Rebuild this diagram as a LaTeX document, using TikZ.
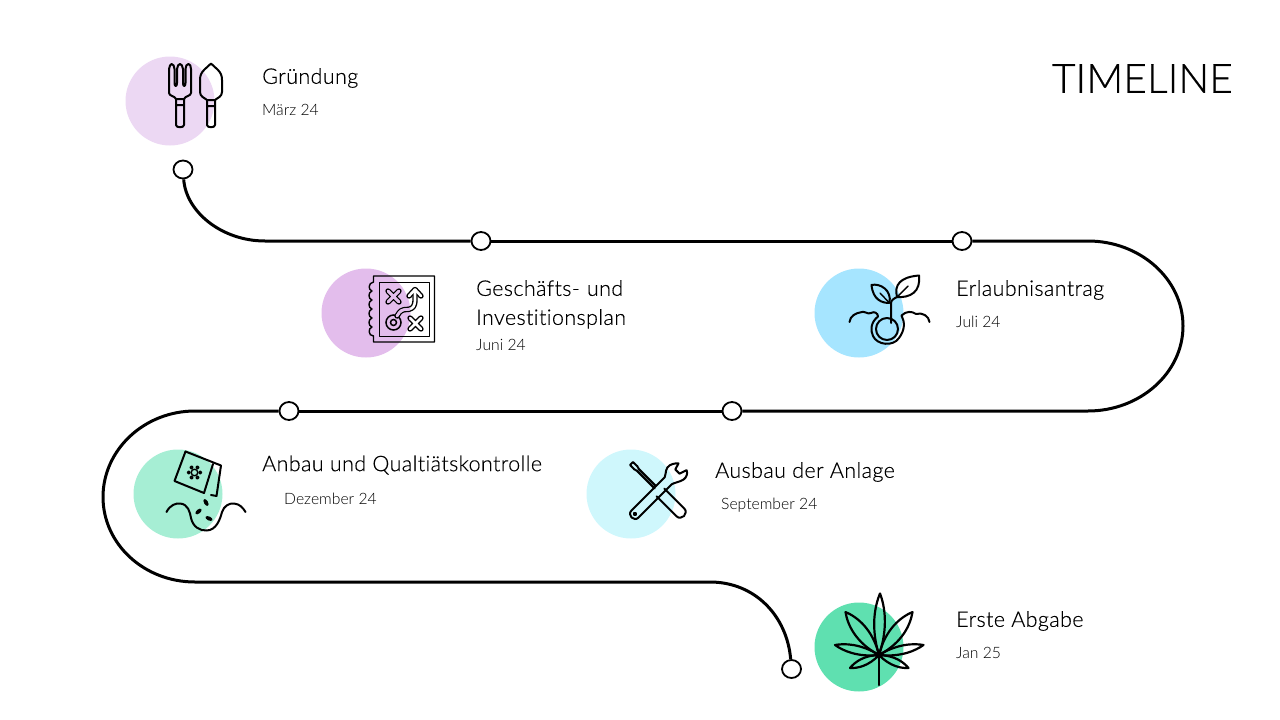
\documentclass[tikz,border=0pt]{standalone}
\usepackage{fontspec}
\setmainfont{Lato Light}[Ligatures=NoCommon]
\newfontfamily\titlefont{Lato Light}[Ligatures=NoCommon,LetterSpace=1.8,FakeBold=0.25]
\newfontfamily\bigfont{Lato Light}[LetterSpace=0.5,FakeBold=0.6]
\usetikzlibrary{calc,shapes.geometric}
\definecolor{cA}{HTML}{ECD8F3}
\definecolor{cB}{HTML}{E3BDEC}
\definecolor{cC}{HTML}{A6E5FF}
\definecolor{cD}{HTML}{A6EED4}
\definecolor{cE}{HTML}{CFF7FC}
\definecolor{cF}{HTML}{5FE0B0}
\newcommand{\mapmarks}{%
  \draw[line cap=round] (388,291)--(399,302) (399,291)--(388,302);
  \draw[line cap=round] (410,318)--(421,329) (421,318)--(410,329);
  \draw[line cap=round,line join=round,rounded corners=3pt] (397,316)--(401,310)--(412,309)--(415,304)--(415,291);
  \draw[line cap=round,line join=round] (409,296)--(415,289.5)--(421,296);
}
\newcommand{\leafshape}[3]{% tip x, tip y, width
  \draw[icon,line width=2.2pt] (lc) .. controls ($(lc)!0.45!(#1,#2)!#3pt!90:(#1,#2)$) and ($(lc)!0.8!(#1,#2)!#3*0.55pt!90:(#1,#2)$) .. (#1,#2)
     .. controls ($(lc)!0.8!(#1,#2)!#3*0.55pt!-90:(#1,#2)$) and ($(lc)!0.45!(#1,#2)!#3pt!-90:(#1,#2)$) .. (lc);
}
\tikzset{
  x=1pt,y=-1pt,
  blob/.style={circle,draw=none,minimum size=89pt,inner sep=0pt},
  stop/.style={ellipse,draw=black,fill=white,line width=1.8pt,minimum width=19pt,minimum height=18pt,inner sep=0pt},
  track/.style={line width=3pt,black},
  icon/.style={line width=2pt,black,line join=round,line cap=round},
  thin icon/.style={line width=1.4pt,black,line join=round,line cap=round},
  head/.style={anchor=west,inner sep=0pt,font=\titlefont\fontsize{21.5}{29}\selectfont,align=left},
  when/.style={anchor=west,inner sep=0pt,font=\fontsize{15.7}{20}\selectfont},
}
\begin{document}
\begin{tikzpicture}
\useasboundingbox (0,0) rectangle (1280,720);
% circles
\node[blob,fill=cA] (b1) at (170,101) {};
\node[blob,fill=cB] (b2) at (366,313) {};
\node[blob,fill=cC] (b3) at (859,313) {};
\node[blob,fill=cD] (b4) at (178,494) {};
\node[blob,fill=cE] (b5) at (631,494) {};
\node[blob,fill=cF] (b6) at (859,647) {};
% stops
\node[stop] (p1) at (183,169.5) {};
\node[stop] (p2) at (481,241) {};
\node[stop] (p3) at (962,241) {};
\node[stop] (p4) at (732,411) {};
\node[stop] (p5) at (289,411) {};
\node[stop] (p6) at (791.5,669) {};
\coordinate (c1) at (265,241);
\coordinate (c2) at (1088,241);
\coordinate (c3) at (1183,326);
\coordinate (c4) at (1088,411);
\coordinate (c5) at (195,411);
\coordinate (c6) at (103,497);
\coordinate (c7) at (195,582);
\coordinate (c8) at (710,582);
% track
\draw[track] (p1) .. controls (186,212) and (222,241) .. (c1) -- (p2);
\draw[track] (p2) -- (p3);
\draw[track] (p3) -- (c2) .. controls (1140,241) and (1183,279) .. (c3) .. controls (1183,373) and (1140,411) .. (c4) -- (p4);
\draw[track] (p4) -- (p5);
\draw[track] (p5) -- (c5) .. controls (144,411) and (103,450) .. (c6) .. controls (103,544) and (144,582) .. (c7) -- (c8) .. controls (755,582) and (787,616) .. (p6);
% fork
\draw[icon] (169,93) -- (169,69) .. controls (169,66) and (171,64) .. (171.5,64) .. controls (173,64) and (174.5,66) .. (174.5,69) -- (174.5,83) .. controls (174.5,87) and (177,87) .. (177,83) -- (177,69) .. controls (177,66) and (179,64) .. (180,64) .. controls (181,64) and (183,66) .. (183,69) -- (183,83) .. controls (183,87) and (185.5,87) .. (185.5,83) -- (185.5,69) .. controls (185.5,66) and (187,64) .. (188.5,64) .. controls (190,64) and (191,66) .. (191,69) -- (191,93) .. controls (191,96) and (185,96) .. (184,99) -- (176,99) .. controls (175,96) and (169,96) .. (169,93) -- cycle;
\draw[icon] (176,99) -- (176,125) .. controls (176,128) and (184,128) .. (184,125) -- (184,99) (176,105) -- (184,105);
% trowel
\draw[icon] (211,63.5) -- (204.5,69.5) .. controls (201.5,72.5) and (200,75) .. (200,80) -- (200,92) .. controls (200,97) and (205,98) .. (207,100) -- (215,100) .. controls (217,98) and (222,97) .. (222,92) -- (222,80) .. controls (222,75) and (220.5,72.5) .. (217.5,69.5) -- cycle;
\draw[icon] (207,100) -- (207,125) .. controls (207,128) and (215,128) .. (215,125) -- (215,100) (207,106) -- (215,106);
% map
\draw[thin icon] (373.5,276) -- (434.5,276) -- (434.5,342) -- (373.5,342) -- (373.5,336)
  .. controls (368,336) and (368,328) .. (372,327)
  .. controls (368,326) and (368,319) .. (372,318)
  .. controls (368,317) and (368,310) .. (372,309)
  .. controls (368,308) and (368,301) .. (372,300)
  .. controls (368,299) and (368,292) .. (372,291)
  .. controls (368,290) and (368,283) .. (373.5,282) -- cycle;
\draw[icon,line width=1.5pt] (379.5,282.5) rectangle (429.5,336.5);
\draw[black,line width=1.5pt] (393.5,322.5) circle[radius=7.5];
\draw[black,line width=1.5pt] (393.5,322.5) circle[radius=3];
\begin{scope}[line width=5.4pt,black] \mapmarks \end{scope}
\begin{scope}[line width=2.6pt,white] \tikzset{every path/.style={white,line width=2.6pt}} \mapmarks \end{scope}
\begin{scope}
  \clip (b2.center) circle[radius=44.5];
  \tikzset{every path/.style={cB,line width=2.6pt}} \mapmarks
\end{scope}
% sprout
\draw[icon] (849.5,322) .. controls (850,316) and (856,313) .. (860,312.5) .. controls (864,310) and (868,315) .. (871,313) .. controls (874,311) and (878,313) .. (878,316.5) .. controls (871,322) and (870,330) .. (873,336) .. controls (877,345) and (893,347) .. (899,338) .. controls (905,330) and (905,322) .. (901.5,315.5) .. controls (906,311) and (912,311) .. (916,314) .. controls (922,312) and (929,316) .. (929.5,322);
\draw[icon] (887,329) ellipse[x radius=11,y radius=11];
\draw[icon] (891,323) -- (891,303) .. controls (891,300) and (895,298) .. (897,297);
\draw[icon] (889.5,303) .. controls (882,303) and (873,300) .. (871.5,285) .. controls (880,283) and (892,290) .. (889.5,303) -- cycle;
\draw[icon] (897,297) .. controls (894,285) and (900,277) .. (919,275.5) .. controls (921,292) and (910,298) .. (897,297) -- cycle;
\draw[thin icon] (889,302.5) -- (880,293) (897,297) -- (908,286);
% seeds
\draw[icon] (185.5,451.5) -- (221,465.5) -- (216.5,496) -- (211,495);
\draw[icon] (185.5,451.5) -- (174.5,481) -- (204,493) -- (213,464) ;
\draw[thin icon] (194.5,472.5) circle[radius=3.3];
\foreach \a in {0,60,120,180,240,300}
  \draw[thin icon] ($(194.5,472.5)+(\a:5.8)$) circle[radius=1.4];
\fill[black,rotate around={-60:(206,502.5)}] (206,502.5) ellipse[x radius=3.8,y radius=2];
\fill[black,rotate around={40:(198.5,511.5)}] (198.5,511.5) ellipse[x radius=3.8,y radius=2];
\fill[black,rotate around={-25:(209,518.5)}] (209,518.5) ellipse[x radius=3.8,y radius=2];
\draw[icon] (166.5,512) .. controls (170,505) and (176,503) .. (180,503.5) .. controls (188,504) and (190,512) .. (191,518) .. controls (193,527) and (200,531) .. (207,530.5) .. controls (216,530) and (220,520) .. (222,512) .. controls (224,506) and (229,503) .. (234,503.5) .. controls (240,504) and (243,508) .. (245.5,512);
% tools
\begin{scope}[shift={(631.5,463.5)},rotate=-45]
  \draw[icon] (0,-2) -- (6,-2.2) -- (9,-1.3) -- (33,-1.3) (0,2) -- (6,2.2) -- (9,1.3) -- (34,1.3) (0,-2) -- (0,2);
  \draw[icon] (41,-5.5) -- (69,-5.5) .. controls (76,-5.5) and (76,5.5) .. (69,5.5) -- (41,5.5);
\end{scope}
\begin{scope}[shift={(635,514)},rotate=45]
  \draw[icon] (0,5) .. controls (-6.5,5) and (-6.5,-5) .. (0,-5) -- (47,-5) .. controls (50,-5.5) and (51,-9) .. (56,-10) .. controls (60,-10.5) and (64,-8) .. (66.5,-5) -- (60,-3) -- (60,3) -- (67.5,5.5) .. controls (66,9) and (62,10.5) .. (59,10) .. controls (54,9) and (50,5.5) .. (47,5) -- cycle;
  \draw[thin icon] (0,0) circle[radius=1.5];
\end{scope}
% leaf
\coordinate (lc) at (879,655);
\leafshape{880}{593.5}{9}
\leafshape{845.5}{612}{11}
\leafshape{912.5}{612}{11}
\leafshape{835}{645}{7}
\leafshape{923.5}{645}{7}
\leafshape{850}{668}{6}
\leafshape{908.5}{668}{6}
\draw[icon,line width=2.2pt] (lc) -- (879,685);
% texts
\node[anchor=east,inner sep=0pt,font=\bigfont\fontsize{40.5}{50}\selectfont] (title) at (1233,78.5) {TIMELINE};
\node[head] (t1) at (262,78) {Gründung};
\node[when] (d1) at (262,109.5) {März 24};
\node[head,anchor=north west,text width=220pt] (t2) at (476,280) {Geschäfts- und\\[0pt]Investitionsplan};
\node[when] (d2) at (476,344.5) {Juni 24};
\node[head] (t3) at (956,290) {Erlaubnisantrag};
\node[when] (d3) at (956,321.5) {Juli 24};
\node[head] (t4) at (262,465) {Anbau und Qualtiätskontrolle};
\node[when] (d4) at (284,498.5) {Dezember 24};
\node[head] (t5) at (715,472) {Ausbau der Anlage};
\node[when] (d5) at (721,505) {September 24};
\node[head] (t6) at (956,621) {Erste Abgabe};
\node[when] (d6) at (956,652.5) {Jan 25};
\end{tikzpicture}
\end{document}
